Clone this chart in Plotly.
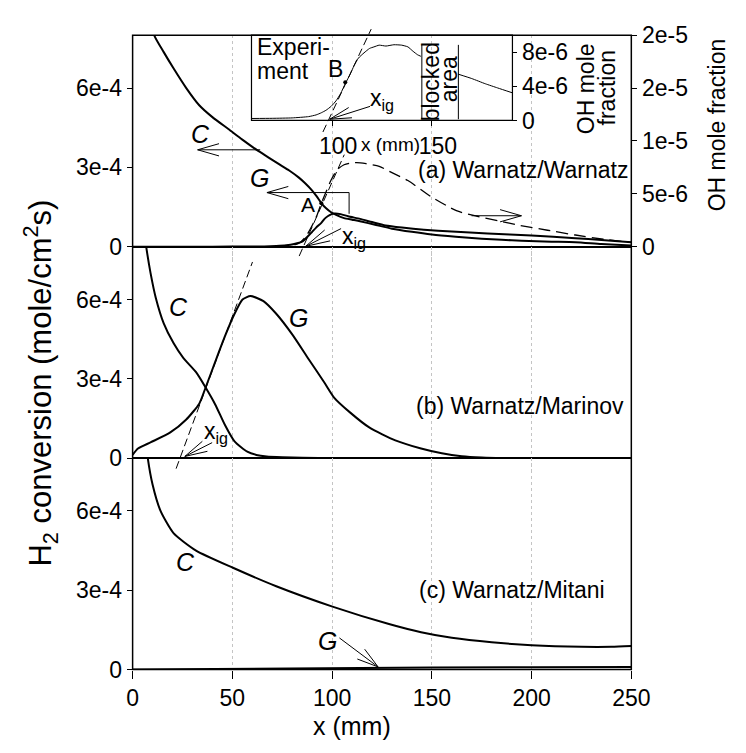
import math
import plotly.graph_objects as go

W, H = 746, 753

# ---------------- data ----------------
# Panel (a) Warnatz/Warnatz
a_C_x = [6, 10.8, 15.6, 20.5, 26.9, 33.4, 40, 48, 55, 62.4, 68, 73.6, 78.5, 83.2, 86.5, 89.8, 92.3, 94.6, 97, 99.5,
         102, 106, 110, 114, 122, 130, 140, 150, 162, 175, 185, 195, 210, 222, 235, 250]
a_C_y = [9.5e-4, 8.0e-4, 7.36e-4, 6.75e-4, 6.0e-4, 5.35e-4, 4.9e-4, 4.45e-4, 4.05e-4, 3.65e-4, 3.38e-4, 3.11e-4,
         2.88e-4, 2.62e-4, 2.4e-4, 2.14e-4, 1.9e-4, 1.65e-4, 1.45e-4, 1.3e-4, 1.2e-4, 1.08e-4, 1.02e-4, 9.6e-5,
         8.2e-5, 6.8e-5, 5.6e-5, 4.6e-5, 3.75e-5, 3.0e-5, 2.6e-5, 2.2e-5, 1.9e-5, 1.7e-5, 1.0e-5, 4e-6]
a_G_x = [0, 40, 60, 66, 72, 77, 81, 85, 88, 90, 92, 94.6, 96.2, 98, 99.5, 101, 104.3, 108, 114, 120, 126.8, 135,
         146, 160, 178, 200, 222, 235, 250]
a_G_y = [0, 0, 5e-7, 1e-6, 2.5e-6, 5e-6, 1e-5, 1.9e-5, 4e-5, 5.6e-5, 7.2e-5, 9e-5, 1.05e-4, 1.16e-4, 1.22e-4,
         1.25e-4, 1.23e-4, 1.15e-4, 1.05e-4, 9.3e-5, 8e-5, 7.2e-5, 6.4e-5, 5.7e-5, 5e-5, 4.2e-5, 3.2e-5, 2.5e-5,
         1.7e-5]
a_OH_x = [0, 75, 80, 84, 87, 90, 92.5, 94.6, 97, 99.5, 102.6, 106, 109, 112.3, 117, 123.6, 130, 138, 149.4, 162.3,
          172, 183, 194.5, 208, 222, 236, 250]
a_OH_y = [0, 0, 1e-7, 4e-7, 1e-6, 2e-6, 3e-6, 4.1e-6, 5.2e-6, 6.3e-6, 7.3e-6, 7.75e-6, 7.9e-6, 7.95e-6, 7.85e-6,
          7.6e-6, 7.0e-6, 6.25e-6, 4.75e-6, 3.4e-6, 2.9e-6, 2.45e-6, 2.0e-6, 1.55e-6, 1.1e-6, 7e-7, 4e-7]
a_tan_x = [83.5, 106.1]
a_tan_y = [-8.9e-7, 8.7e-6]
a_A_x, a_A_y = [94.6], [4.1e-6]

# Inset: experiment
exp_x = [59.6, 70, 80, 88.2, 92, 94.6, 97, 99.5, 102, 104.3, 106.6, 109.1, 111, 113.2, 116, 118.8, 121, 123.6, 127,
         131, 134.9, 138, 140.5, 142.9, 144.5, None, 163.1, 170, 176.8, 183, 190.4]
exp_y = [2.3e-7, 2.5e-7, 3e-7, 4.5e-7, 6.5e-7, 9e-7, 1.2e-6, 1.65e-6, 2.3e-6, 3.16e-6, 4.3e-6, 5.42e-6, 6.4e-6,
         7.29e-6, 7.9e-6, 8.42e-6, 8.6e-6, 8.8e-6, 8.7e-6, 8.85e-6, 8.8e-6, 8.6e-6, 8.1e-6, 7.67e-6, 7.5e-6, None,
         5.42e-6, 4.9e-6, 4.29e-6, 3.8e-6, 3.23e-6]
exp_tan_x = [95.4, 119.6]
exp_tan_y = [-1.35e-6, 1.068e-5]
exp_B_x, exp_B_y = [106.6], [4.47e-6]
blocked_area = [145, 163.3]

# Panel (b) Warnatz/Marinov
b_C_x = [5, 6.8, 9, 11.6, 15.6, 20.5, 25.3, 31.8, 36.6, 41.4, 46.3, 51.1, 57.5, 62, 67.2, 75, 85, 100, 150, 250]
b_C_y = [9e-4, 8e-4, 7.0e-4, 6.07e-4, 5.1e-4, 4.35e-4, 3.8e-4, 3.25e-4, 2.67e-4, 2.03e-4, 1.25e-4, 6.3e-5,
         2.4e-5, 1.2e-5, 6e-6, 3e-6, 1e-6, 0, 0, 0]
b_G_x = [0, 2.7, 9.2, 18.9, 26.9, 33.4, 36.6, 41.4, 46.3, 51.1, 55.1, 59.1, 65.6, 72, 80.1, 88.1, 96.2, 101.1,
         109.1, 118.8, 131.7, 144.6, 155, 165, 175, 185, 250]
b_G_y = [1.2e-5, 3.6e-5, 6e-5, 9.7e-5, 1.46e-4, 2.06e-4, 2.67e-4, 3.64e-4, 4.61e-4, 5.46e-4, 6.0e-4, 6.13e-4,
         5.94e-4, 5.46e-4, 4.67e-4, 3.76e-4, 2.85e-4, 2.28e-4, 1.72e-4, 1.15e-4, 6.7e-5, 3.6e-5, 1.8e-5, 7e-6,
         2e-6, 0, 0]
b_tan_x = [21.8, 60.1]
b_tan_y = [-4.0e-5, 7.42e-4]

# Panel (c) Warnatz/Mitani
c_C_x = [5, 7.6, 10, 14, 20.5, 31.8, 50.3, 72, 100.2, 128.5, 144.6, 160, 180, 200, 225, 240, 250]
c_C_y = [9.8e-4, 8e-4, 7.0e-4, 6.0e-4, 5.16e-4, 4.5e-4, 3.85e-4, 3.15e-4, 2.38e-4, 1.72e-4, 1.41e-4, 1.2e-4,
         1.03e-4, 9.2e-5, 8.6e-5, 8.6e-5, 8.9e-5]
c_G_x = [0, 30, 60, 100, 150, 200, 250]
c_G_y = [0, 2e-6, 4e-6, 6e-6, 8e-6, 9e-6, 1e-5]

x_ticks = [0, 50, 100, 150, 200, 250]
h2_ticks = [0, 3e-4, 6e-4]
h2_ticktext = ["0", "3e-4", "6e-4"]
oh_ticks = [0, 5e-6, 1e-5, 1.5e-5, 2e-5]
oh_ticktext = ["0", "5e-6", "1e-5", "2e-5", "2e-5"]
inset_x_ticks = [100, 150]
inset_oh_ticks = [0, 4e-6, 8e-6]
inset_oh_ticktext = ["0", "4e-6", "8e-6"]

# ---------------- layout geometry (pixels) ----------------
FONT = "Arial, Liberation Sans, sans-serif"
PL, PR = 131, 647          # plot left / right
PT, PB = 23, 680           # plot top / bottom
A0, B0 = 242, 461          # zero lines of panels a, b
EXT = 13                   # downward extension of panels a/b (px)
YMAX = 8e-4
PANEL_H = 219
OHMAX = 2e-5


def fx(px):
    return px / W


def fy(py):
    return 1 - py / H


ext_val = EXT / PANEL_H * YMAX

fig = go.Figure()

line_main = dict(color="black", width=2, shape="spline", smoothing=0.6)
fig.add_trace(go.Scatter(x=a_C_x, y=a_C_y, xaxis="x", yaxis="y", mode="lines", line=line_main))
fig.add_trace(go.Scatter(x=a_G_x, y=a_G_y, xaxis="x", yaxis="y", mode="lines", line=line_main))
fig.add_trace(go.Scatter(x=a_OH_x, y=a_OH_y, xaxis="x", yaxis="y4", mode="lines",
                         line=dict(color="black", width=1.3, dash="12px,6px", shape="spline", smoothing=0.6)))
fig.add_trace(go.Scatter(x=a_tan_x, y=a_tan_y, xaxis="x", yaxis="y4", mode="lines",
                         line=dict(color="black", width=1, dash="8px,4px")))
fig.add_trace(go.Scatter(x=a_A_x, y=a_A_y, xaxis="x", yaxis="y4", mode="markers",
                         marker=dict(color="black", size=4)))

fig.add_trace(go.Scatter(x=b_C_x, y=b_C_y, xaxis="x2", yaxis="y2", mode="lines", line=line_main))
fig.add_trace(go.Scatter(x=b_G_x, y=b_G_y, xaxis="x2", yaxis="y2", mode="lines", line=line_main))
fig.add_trace(go.Scatter(x=b_tan_x, y=b_tan_y, xaxis="x2", yaxis="y2", mode="lines",
                         line=dict(color="black", width=1, dash="8px,4px")))

fig.add_trace(go.Scatter(x=c_C_x, y=c_C_y, xaxis="x3", yaxis="y3", mode="lines", line=line_main))
fig.add_trace(go.Scatter(x=c_G_x, y=c_G_y, xaxis="x3", yaxis="y3", mode="lines",
                         line=dict(color="black", width=2)))

fig.add_trace(go.Scatter(x=exp_x, y=exp_y, xaxis="x4", yaxis="y5", mode="lines",
                         line=dict(color="black", width=1, shape="spline", smoothing=0.5), connectgaps=False))
fig.add_trace(go.Scatter(x=exp_tan_x, y=exp_tan_y, xaxis="x4", yaxis="y5", mode="lines",
                         line=dict(color="black", width=1, dash="8px,4px")))
fig.add_trace(go.Scatter(x=exp_B_x, y=exp_B_y, xaxis="x4", yaxis="y5", mode="markers",
                         marker=dict(color="black", size=4)))

tickfont = dict(family=FONT, size=23, color="black")
grid = dict(showgrid=True, gridcolor="#c4c4c4", griddash="dot", gridwidth=1)
xcommon = dict(range=[0, 250], tickvals=x_ticks, domain=[fx(PL), fx(PR)], zeroline=False, showline=False,
               **grid)

shapes = []
annotations = []


def seg(x0, y0, x1, y1, width=1, dash=None):
    d = dict(type="line", xref="paper", yref="paper", x0=fx(x0), y0=fy(y0), x1=fx(x1), y1=fy(y1),
             line=dict(color="black", width=width))
    if dash:
        d["line"]["dash"] = dash
    shapes.append(d)


def arrow(tx, ty, hx, hy, head=23, ang=16, width=1):
    """tail (tx,ty) -> tip (hx,hy), open V head."""
    seg(tx, ty, hx, hy, width)
    dx, dy = tx - hx, ty - hy
    L = math.hypot(dx, dy)
    ux, uy = dx / L, dy / L
    for s in (1, -1):
        a = math.radians(ang * s)
        vx = ux * math.cos(a) - uy * math.sin(a)
        vy = ux * math.sin(a) + uy * math.cos(a)
        seg(hx, hy, hx + vx * head, hy + vy * head, width)


def text(px, py, s, size=23, italic=False, xanchor="center", angle=0):
    annotations.append(dict(x=fx(px), y=fy(py), xref="paper", yref="paper", text=s, showarrow=False,
                            xanchor=xanchor, yanchor="middle", textangle=angle,
                            font=dict(family=FONT, size=size, color="black",
                                      style="italic" if italic else "normal")))


# frame
shapes.append(dict(type="rect", xref="paper", yref="paper", x0=fx(PL), y0=fy(PB), x1=fx(PR), y1=fy(PT),
                   line=dict(color="black", width=1.5)))
# inset box
IL, IR, IT, IB = 254, 524, 23, 111.3
shapes.append(dict(type="rect", xref="paper", yref="paper", x0=fx(IL), y0=fy(IB), x1=fx(IR), y1=fy(IT),
                   line=dict(color="black", width=1.2)))
# blocked area marks
for bx in blocked_area:
    shapes.append(dict(type="line", xref="x4", yref="paper", x0=bx, x1=bx, y0=fy(110), y1=fy(33),
                       line=dict(color="black", width=1)))

# panel (a) annotations
text(201, 125, "C", size=25, italic=True)
arrow(263, 141.7, 198.3, 141.7)
text(262, 171, "G", size=25, italic=True)
seg(355, 208, 355, 186)
arrow(355, 186, 270, 186)
text(312.5, 198, "A", size=21)
text(346, 233, "x<sub>ig</sub>", size=23, xanchor="left")
arrow(346.7, 223.3, 310, 241.7, head=26, ang=14)
arrow(481.7, 210, 533.3, 210)
text(646, 163, "(a) Warnatz/Warnatz", xanchor="right")

# inset annotations
text(258, 35, "Experi-", xanchor="left")
text(258, 60, "ment", xanchor="left")
text(341, 58, "B", size=23)
text(375, 90, "x<sub>ig</sub>", size=23, xanchor="left")
arrow(376.7, 96.7, 335, 110, head=23, ang=14)
text(439.5, 71, "blocked", angle=-90)
text(458, 69, "area", angle=-90)
text(600, 78, "OH mole", angle=-90)
text(622, 78, "fraction", angle=-90)
text(398, 136, "x (mm)", size=19)

# panel (b)
text(178, 304, "C", size=25, italic=True)
text(302.5, 316, "G", size=25, italic=True)
text(203, 435, "x<sub>ig</sub>", xanchor="left")
arrow(213.3, 445, 185, 459.3, head=24, ang=14)
text(642, 407, "(b) Warnatz/Marinov", xanchor="right")

# panel (c)
text(186, 569, "C", size=25, italic=True)
text(333, 650, "G", size=25, italic=True)
arrow(345, 647.3, 385, 677.3)
text(622, 598, "(c) Warnatz/Mitani", xanchor="right")

# axis titles
text(36, 383, "H<sub>2</sub> conversion (mole/cm<sup>2</sup>s)", size=31, angle=-90)
text(736, 116, "OH mole fraction", size=23, angle=-90)
text(358, 738, "x (mm)", size=25)

fig.update_layout(
    width=W, height=H, autosize=False,
    margin=dict(l=0, r=0, t=0, b=0, pad=0),
    paper_bgcolor="white", plot_bgcolor="rgba(0,0,0,0)",
    showlegend=False,
    font=dict(family=FONT, size=23, color="black"),
    xaxis=dict(anchor="y", showticklabels=False, ticks="", **xcommon),
    xaxis2=dict(anchor="y2", showticklabels=False, ticks="", **xcommon),
    xaxis3=dict(anchor="y3", showticklabels=True, ticks="outside", ticklen=8, tickcolor="black",
                tickfont=tickfont, **xcommon),
    yaxis=dict(anchor="x", domain=[fy(A0 + EXT), fy(PT)], range=[-ext_val, YMAX], tickvals=h2_ticks,
               ticktext=h2_ticktext, ticks="outside", ticklen=5, tickcolor="black", tickfont=tickfont,
               showgrid=False, showline=False, zeroline=True, zerolinecolor="black", zerolinewidth=2),
    yaxis4=dict(anchor="x", overlaying="y", side="right",
                range=[-ext_val / YMAX * OHMAX, OHMAX], tickvals=oh_ticks, ticktext=oh_ticktext,
                ticks="outside", ticklen=5, tickcolor="black", tickfont=tickfont,
                showgrid=False, showline=False, zeroline=False),
    yaxis2=dict(anchor="x2", domain=[fy(B0 + EXT), fy(A0)], range=[-ext_val, YMAX], tickvals=h2_ticks,
                ticktext=h2_ticktext, ticks="outside", ticklen=5, tickcolor="black", tickfont=tickfont,
                showgrid=False, showline=False, zeroline=True, zerolinecolor="black", zerolinewidth=2),
    yaxis3=dict(anchor="x3", domain=[fy(PB), fy(B0)], range=[0, YMAX], tickvals=h2_ticks,
                ticktext=h2_ticktext, ticks="outside", ticklen=5, tickcolor="black", tickfont=tickfont,
                showgrid=False, showline=False, zeroline=False),
    xaxis4=dict(anchor="free", position=fy(IB), domain=[fx(IL), fx(IR)],
                range=[(IL - PL) * 250 / (PR - PL), (IR - PL) * 250 / (PR - PL)],
                tickvals=inset_x_ticks, ticks="outside", ticklen=5, tickcolor="black", tickfont=tickfont,
                showgrid=False, zeroline=False, showline=False, ticklabelshift=6),
    yaxis5=dict(anchor="x4", side="right", domain=[fy(124.6), fy(15.6)], range=[-1.5e-6, 1.08e-5],
                tickvals=inset_oh_ticks, ticktext=inset_oh_ticktext, ticks="outside", ticklen=4,
                tickcolor="black", tickfont=tickfont, showgrid=False, zeroline=False, showline=False),
    shapes=shapes,
    annotations=annotations,
)

fig.write_html("out.html")
